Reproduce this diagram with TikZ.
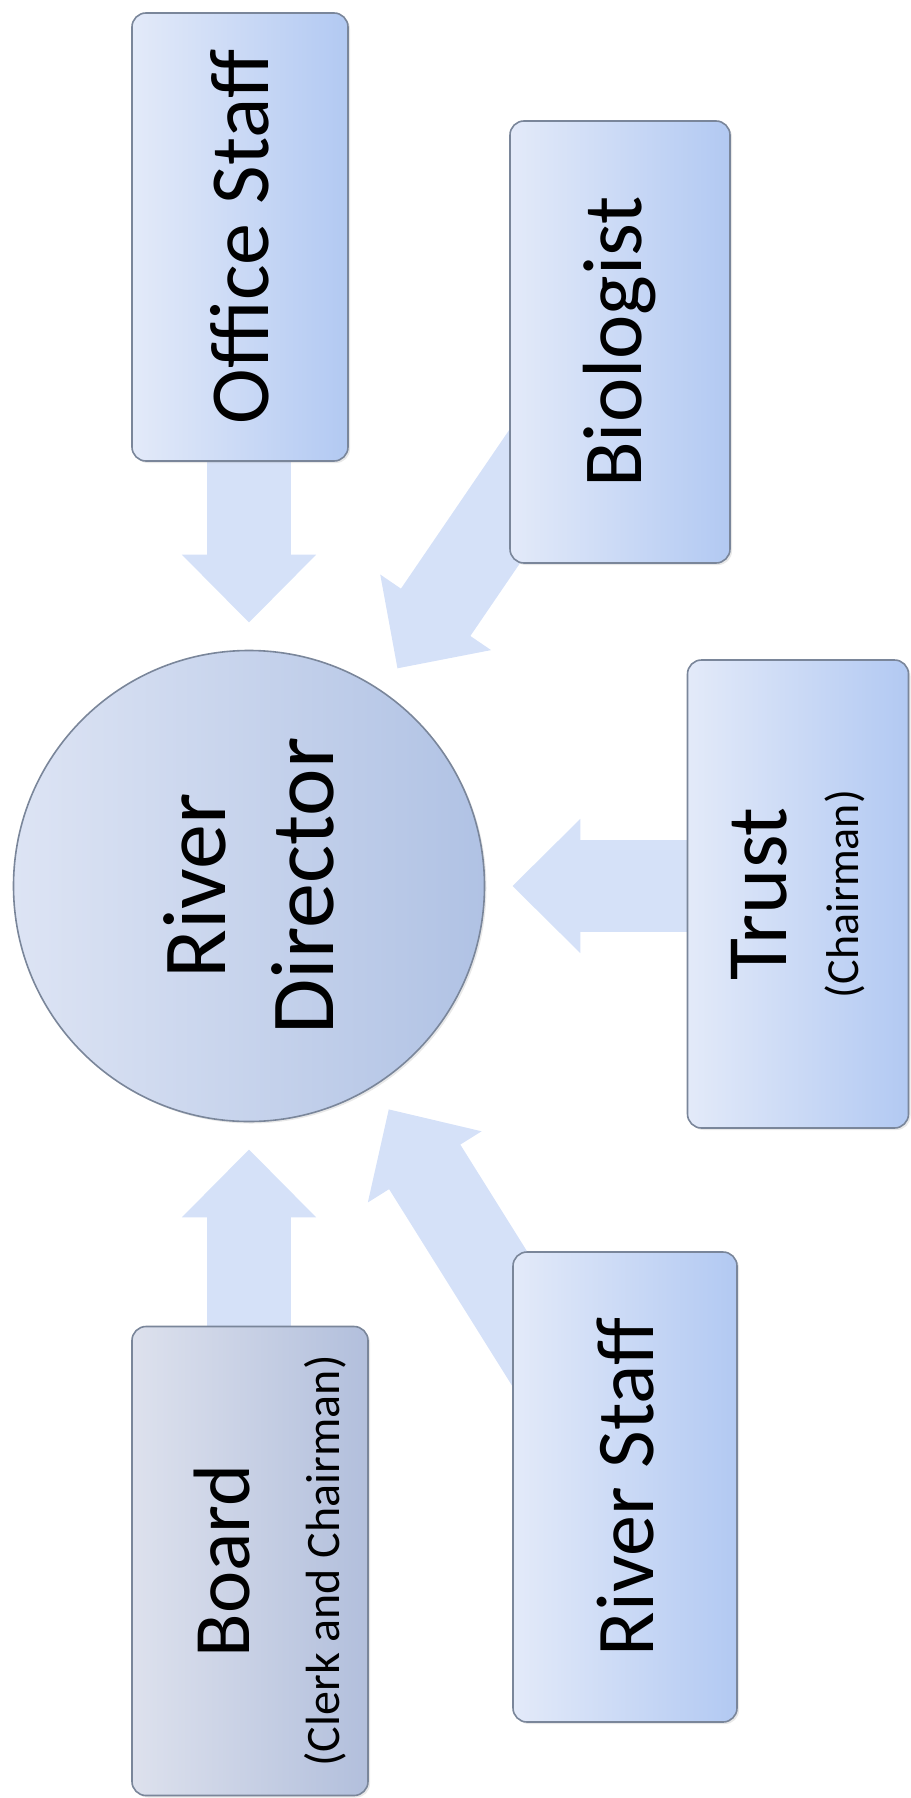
\documentclass[tikz,border=0pt]{standalone}
\usepackage{fontspec}
\setmainfont{Carlito}
\usetikzlibrary{arrows.meta,shadows,backgrounds}
\definecolor{bdr}{HTML}{7A869A}
\definecolor{bxL}{HTML}{E3EAF9}
\definecolor{bxR}{HTML}{B2C9F2}
\definecolor{bdL}{HTML}{DDE1ED}
\definecolor{bdR}{HTML}{B2BFDC}
\definecolor{ciL}{HTML}{DDE4F4}
\definecolor{ciR}{HTML}{B0C2E4}
\definecolor{arw}{HTML}{D5E1F8}
\begin{document}
\begin{tikzpicture}[x=1pt,y=-1pt,
  rbox/.style={draw=bdr, line width=1.6pt, rounded corners=14pt, rotate=90,
    inner sep=0pt, align=center, left color=bxL, right color=bxR,
    drop shadow={shadow xshift=2pt,shadow yshift=-2pt,opacity=0.18}},
  boardcol/.style={left color=bdL, right color=bdR},
  fat/.style={draw=arw, line width=84pt, -{Triangle[width=130pt,length=68pt]}, shorten >=27pt},
]
\useasboundingbox (0,0) rectangle (910,1798);

\node[rbox, minimum width=448pt, minimum height=216pt, font=\fontsize{84}{100}\selectfont]
  (off) at (240,237) {Office Staff};
\node[rbox, minimum width=442pt, minimum height=220pt, font=\fontsize{84}{100}\selectfont]
  (bio) at (620,342) {Biologist};
\node[rbox, minimum width=468pt, minimum height=221pt, font=\fontsize{86}{72}\selectfont]
  (trust) at (798,894) {Trust\\{\fontsize{46}{72}\selectfont (Chairman)}};
\node[rbox, boardcol, minimum width=469pt, minimum height=236pt, font=\fontsize{80}{90}\selectfont,
  text height=187pt, text depth=9pt]
  (board) at (250,1561) {Board\\{\fontsize{48}{90}\selectfont (Clerk and Chairman)}};
\node[rbox, minimum width=470pt, minimum height=224pt, font=\fontsize{82}{100}\selectfont]
  (rs) at (625,1487) {River Staff};
\node[circle, draw=bdr, line width=1.6pt, rotate=90, inner sep=0pt, align=center,
  left color=ciL, right color=ciR, minimum size=471pt,
  drop shadow={shadow xshift=2pt,shadow yshift=-2pt,opacity=0.18},
  font=\fontsize{90}{108}\selectfont]
  (dir) at (249,886) {River\\Director};

\begin{scope}[on background layer]
\draw[fat] (dir.center |- off.center) -- (dir);
\draw[fat] (bio.center) -- (dir);
\draw[fat, line width=92pt] (trust.center |- dir.center) -- (dir);
\draw[fat] (dir.center |- board.center) -- (dir);
\draw[fat] (rs.center) -- (dir);
\end{scope}
\end{tikzpicture}
\end{document}
